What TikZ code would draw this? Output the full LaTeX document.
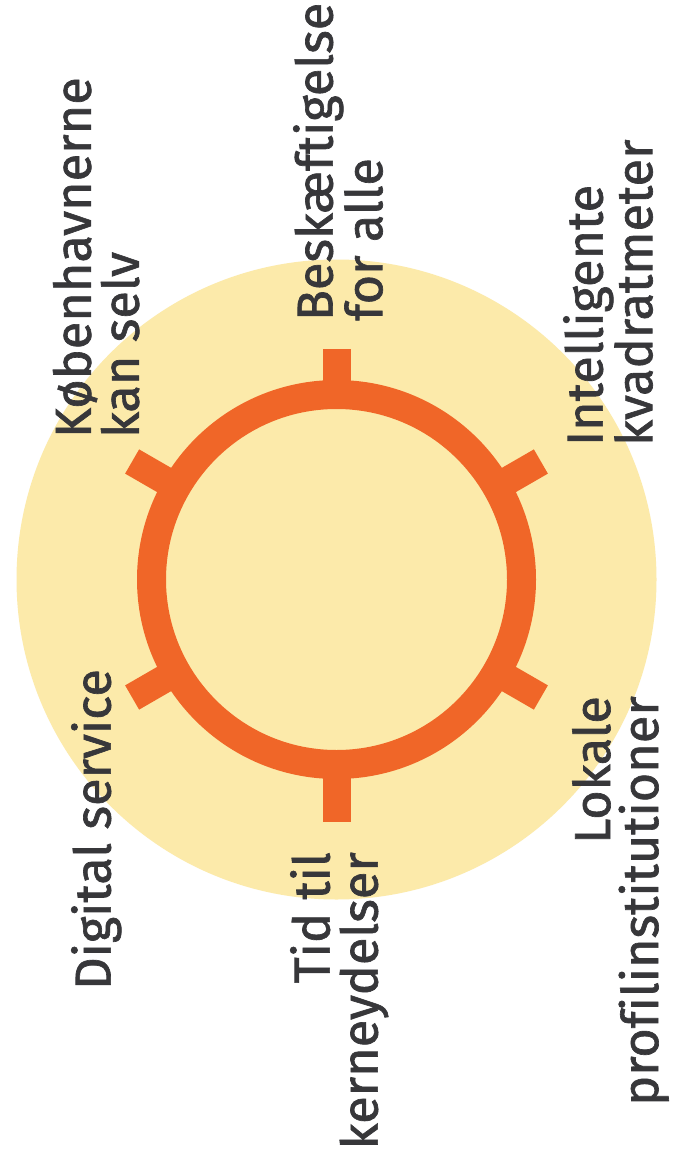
\documentclass[tikz,border=0pt]{standalone}
\usepackage{fontspec}
\setmainfont[Ligatures=NoCommon,FakeBold=1.3]{Fira Sans}
\usetikzlibrary{calc}
\definecolor{sun}{RGB}{252,234,170}
\definecolor{ringc}{RGB}{240,102,40}
\definecolor{ink}{RGB}{55,55,58}
\begin{document}
\begin{tikzpicture}[x=1pt,y=-1pt,
  lbl/.style={rotate=90, inner sep=0pt, text=ink, font=\fontsize{50.5}{48}\selectfont},
  upl/.style={lbl, align=left, anchor=north west},
  dnl/.style={lbl, align=right, anchor=north east},
  ringline/.style={draw=ringc, line width=29pt},
  tick/.style={draw=ringc, line width=28pt}]
\useasboundingbox (0,0) rectangle (674,1166);
\fill[white] (0,0) rectangle (674,1166);
\coordinate (C) at (336.5,579.5);
\fill[sun] (C) circle[radius=320];
\path[ringline] (C) circle[radius=185];
\foreach \a/\r in {90/242, 30/236, -30/236, -90/231, 150/236, 210/236}
  \path[tick] ($(C)+(\a:185)$) -- ($(C)+(\a:\r)$);
\node[upl] (kbh) at (52.7,438) {Københavnerne\\kan selv};
\node[upl] (besk) at (293,321) {Beskæftigelse\\for alle};
\node[upl] (intel) at (563,446) {Intelligente\\kvadratmeter};
\node[upl] (digi) at (71,990) {Digital service};
\node[dnl] (tid) at (290,852) {Tid til\\kerneydelser};
\node[dnl] (lok) at (572,696) {Lokale\\profilinstitutioner};
\end{tikzpicture}
\end{document}
